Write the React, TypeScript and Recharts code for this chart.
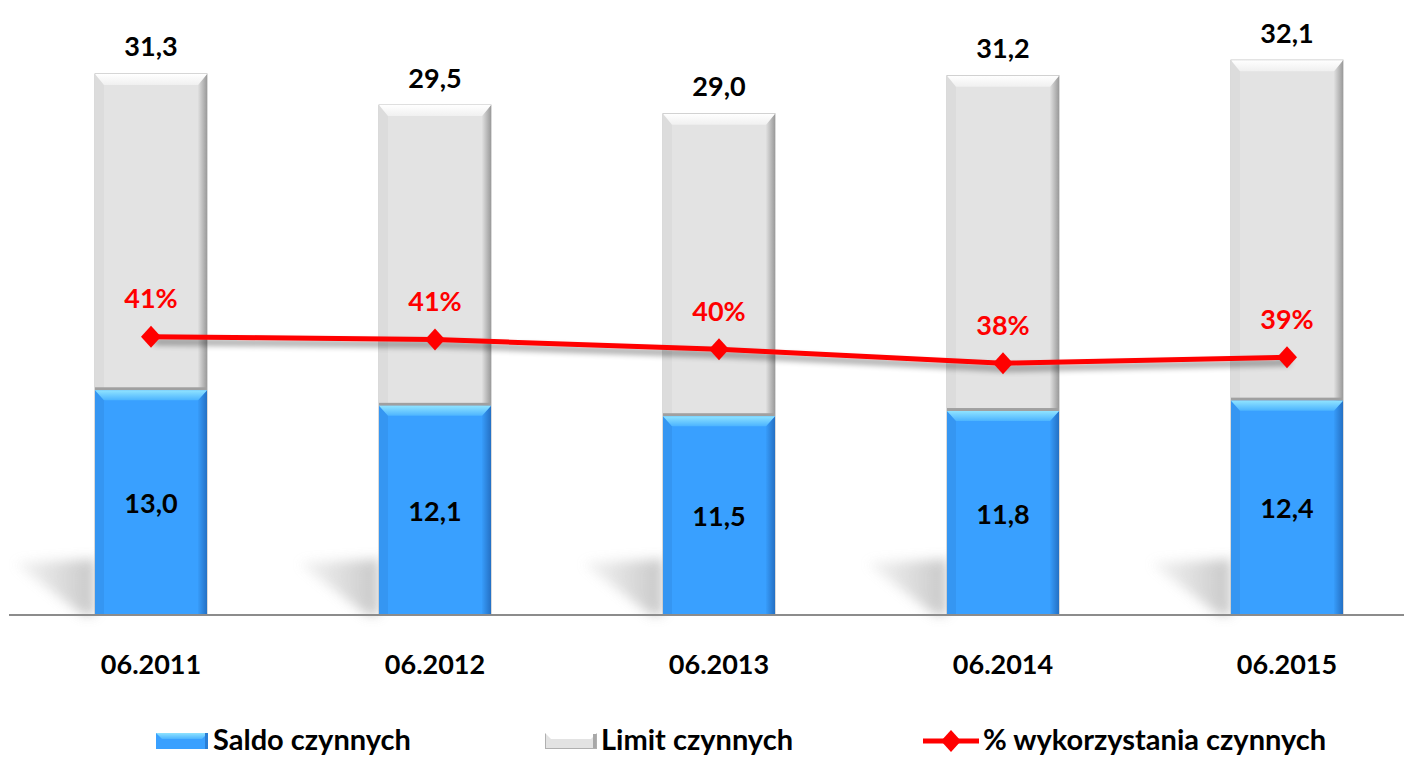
import React from 'react';
import { ComposedChart, Bar, Line, XAxis, YAxis, Legend, LabelList } from 'recharts';

const categories = ['06.2011', '06.2012', '06.2013', '06.2014', '06.2015'];
const saldo = [13.0, 12.1, 11.5, 11.8, 12.4];
const limit = [31.3, 29.5, 29.0, 31.2, 32.1];
const pct = [0.414, 0.41, 0.397, 0.378, 0.386];
const legendLabels = ['Saldo czynnych', 'Limit czynnych', '% wykorzystania czynnych'];

const data = categories.map((c, i) => ({ cat: c, saldo: saldo[i], limit: limit[i], pct: pct[i] }));

const FONT = 'Lato, "Open Sans", sans-serif';
const WEIGHT = 700;
const fmt = (v: number) => v.toFixed(1).replace('.', ',');

function LimitShape(props: any) {
  const { x, y, width: w, height: h, index } = props;
  const base = y + h;
  const bx = 9, by = 11;
  return (
    <g>
      <defs>
        <filter id={`shb${index}`} x="-50%" y="-50%" width="200%" height="200%">
          <feGaussianBlur stdDeviation="6" />
        </filter>
        <linearGradient id={`sg${index}`} x1="0" y1="0" x2="1" y2="0">
          <stop offset="0" stopColor="#d0d0d0" stopOpacity="0.3" />
          <stop offset="1" stopColor="#bdbdbd" stopOpacity="1" />
        </linearGradient>
        <linearGradient id={`gt${index}`} x1="0" y1="0" x2="0" y2="1">
          <stop offset="0" stopColor="#ffffff" />
          <stop offset="1" stopColor="#f0f0f0" />
        </linearGradient>
        <linearGradient id={`gr${index}`} x1="0" y1="0" x2="1" y2="0">
          <stop offset="0" stopColor="#e0e0e0" />
          <stop offset="1" stopColor="#9a9a9a" />
        </linearGradient>
        {index === 0 && (
          <filter id="lineShadow" x="-10%" y="-50%" width="120%" height="200%">
            <feGaussianBlur in="SourceAlpha" stdDeviation="3" />
            <feOffset dx="3" dy="5" result="ob" />
            <feComponentTransfer>
              <feFuncA type="linear" slope="0.45" />
            </feComponentTransfer>
            <feMerge>
              <feMergeNode />
              <feMergeNode in="SourceGraphic" />
            </feMerge>
          </filter>
        )}
      </defs>
      <polygon
        points={`${x - 80},${base - 52} ${x},${base - 56} ${x},${base} ${x - 12},${base}`}
        fill={`url(#sg${index})`}
        opacity={0.85}
        filter={`url(#shb${index})`}
      />
      <rect x={x} y={y} width={w} height={h} fill="#e3e3e3" stroke="#b5b5b5" strokeWidth={1} />
      <polygon points={`${x},${y} ${x + bx},${y + by} ${x + bx},${base} ${x},${base}`} fill="#dcdcdc" />
      <polygon points={`${x + w},${y} ${x + w - bx},${y + by} ${x + w - bx},${base} ${x + w},${base}`} fill={`url(#gr${index})`} />
      <polygon points={`${x},${y} ${x + w},${y} ${x + w - bx},${y + by} ${x + bx},${y + by}`} fill={`url(#gt${index})`} />
    </g>
  );
}

function SaldoShape(props: any) {
  const { x, y, width: w, height: h, index } = props;
  const base = y + h;
  const bx = 9, by = 10;
  return (
    <g>
      <defs>
        <linearGradient id={`bt${index}`} x1="0" y1="0" x2="0" y2="1">
          <stop offset="0" stopColor="#8fe3ff" />
          <stop offset="1" stopColor="#4cb4ff" />
        </linearGradient>
        <linearGradient id={`br${index}`} x1="0" y1="0" x2="1" y2="0">
          <stop offset="0" stopColor="#379cfa" />
          <stop offset="1" stopColor="#2470c4" />
        </linearGradient>
      </defs>
      <rect x={x} y={y - 3} width={w} height={3} fill="#a0a0a0" />
      <rect x={x} y={y} width={w} height={h} fill="#39a0ff" />
      <polygon points={`${x},${y} ${x + bx},${y + by} ${x + bx},${base} ${x},${base}`} fill="#3596f2" />
      <polygon points={`${x + w},${y} ${x + w - bx},${y + by} ${x + w - bx},${base} ${x + w},${base}`} fill={`url(#br${index})`} />
      <polygon points={`${x},${y} ${x + w},${y} ${x + w - bx},${y + by} ${x + bx},${y + by}`} fill={`url(#bt${index})`} />
    </g>
  );
}

function Diamond(props: any) {
  const { cx, cy } = props;
  if (cx == null || cy == null) return null;
  return <polygon points={`${cx - 10},${cy} ${cx},${cy - 11} ${cx + 10},${cy} ${cx},${cy + 11}`} fill="#ff0000" />;
}

const textStyle = (fill: string, size = 27) => ({ fontFamily: FONT, fontWeight: WEIGHT, fontSize: size, fill });

const topLabel = (props: any) => {
  const { x, y, width, value } = props;
  return (
    <text x={x + width / 2} y={y - 28} textAnchor="middle" dominantBaseline="central" style={textStyle('#000')}>
      {fmt(value)}
    </text>
  );
};

const centerLabel = (props: any) => {
  const { x, y, width, height, value } = props;
  return (
    <text x={x + width / 2} y={y + height / 2} textAnchor="middle" dominantBaseline="central" style={textStyle('#000')}>
      {fmt(value)}
    </text>
  );
};

const pctLabel = (props: any) => {
  const { x, y, value } = props;
  return (
    <text x={x} y={y - 39} textAnchor="middle" dominantBaseline="central" style={textStyle('#ff0000')}>
      {Math.round(value * 100) + '%'}
    </text>
  );
};

const CatTick = (props: any) => {
  const { x, y, payload } = props;
  return (
    <text x={x} y={y + 40} textAnchor="middle" dominantBaseline="central" style={textStyle('#000')}>
      {payload.value}
    </text>
  );
};

const renderLegend = () => {
  const ts: React.CSSProperties = {
    position: 'absolute', top: 4, height: 30, lineHeight: '30px', fontFamily: FONT, fontWeight: WEIGHT,
    fontSize: 29, color: '#000', whiteSpace: 'nowrap',
  };
  return (
    <div style={{ position: 'relative', width: 1404, height: 40 }}>
      <svg style={{ position: 'absolute', left: 148, top: 13 }} width={52} height={16}>
        <defs>
          <linearGradient id="lgb" x1="0" y1="0" x2="0" y2="1">
            <stop offset="0" stopColor="#8fe3ff" />
            <stop offset="1" stopColor="#4cb4ff" />
          </linearGradient>
        </defs>
        <rect x={0} y={0} width={52} height={16} fill="#39a0ff" />
        <polygon points="0,0 52,0 46,6 6,6" fill="url(#lgb)" />
        <rect x={49} y={0} width={3} height={16} fill="#2a7ed6" />
      </svg>
      <span style={{ ...ts, left: 205 }}>{legendLabels[0]}</span>
      <svg style={{ position: 'absolute', left: 537, top: 13 }} width={52} height={16}>
        <rect x={0.5} y={0.5} width={51} height={15} fill="#e3e3e3" stroke="#b0b0b0" />
        <polygon points="0,0 52,0 46,6 6,6" fill="#ffffff" />
        <rect x={48} y={1} width={3} height={14} fill="#a8a8a8" />
      </svg>
      <span style={{ ...ts, left: 593 }}>{legendLabels[1]}</span>
      <svg style={{ position: 'absolute', left: 915, top: 9 }} width={56} height={24}>
        <line x1={0} y1={12} x2={56} y2={12} stroke="#ff0000" strokeWidth={5} />
        <polygon points="18,12 28,1 38,12 28,23" fill="#ff0000" />
      </svg>
      <span style={{ ...ts, left: 975 }}>{legendLabels[2]}</span>
    </div>
  );
};

export default function App() {
  return (
    <div style={{ width: 1404, height: 752, overflow: 'hidden', background: '#fff' }}>
      <ComposedChart
        width={1421}
        height={752}
        data={data}
        margin={{ top: 2, right: 0, bottom: 0, left: 1 }}
        barGap={-112}
        barSize={112}
      >
        <XAxis
          dataKey="cat"
          axisLine={{ stroke: '#8c8c8c', strokeWidth: 2 }}
          tickLine={false}
          tick={<CatTick />}
          height={105}
          interval={0}
        />
        <YAxis yAxisId="left" domain={[0, 35]} hide />
        <YAxis yAxisId="right" orientation="right" domain={[0.0373, 0.856]} hide />
        <Bar yAxisId="left" dataKey="limit" shape={<LimitShape />} isAnimationActive={false}>
          <LabelList dataKey="limit" content={topLabel} />
        </Bar>
        <Bar yAxisId="left" dataKey="saldo" shape={<SaldoShape />} isAnimationActive={false}>
          <LabelList dataKey="saldo" content={centerLabel} />
        </Bar>
        <Line
          yAxisId="right"
          dataKey="pct"
          stroke="#ff0000"
          strokeWidth={5}
          dot={<Diamond />}
          activeDot={false}
          isAnimationActive={false}
          style={{ filter: 'url(#lineShadow)' }}
        >
          <LabelList dataKey="pct" content={pctLabel} />
        </Line>
        <Legend verticalAlign="bottom" height={40} content={renderLegend} wrapperStyle={{ left: 0, width: 1404 }} />
      </ComposedChart>
    </div>
  );
}
